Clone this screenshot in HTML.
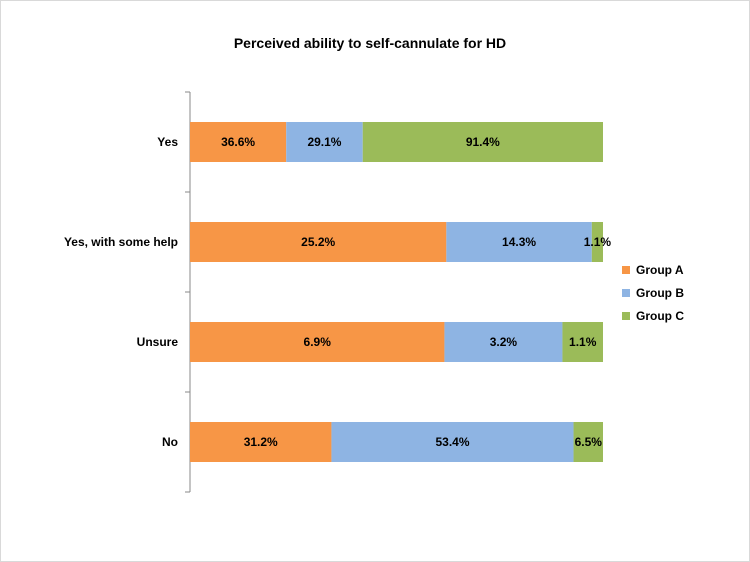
<!DOCTYPE html>
<html><head><meta charset="utf-8"><style>
body{margin:0;background:#fff;}
svg{display:block;font-family:"Liberation Sans",Arial,sans-serif;}
</style></head><body>
<svg id="chart" width="750" height="562">
<rect x="0.5" y="0.5" width="749" height="561" fill="#fff" stroke="#d9d9d9"/>
<text x="370" y="48" text-anchor="middle" font-size="14" font-weight="bold" fill="#000">Perceived ability to self-cannulate for HD</text>
<g id="plot"></g>
</svg>
<script>
const categories = ["Yes","Yes, with some help","Unsure","No"];
const seriesNames = ["Group A","Group B","Group C"];
const groupA = [36.6,25.2,6.9,31.2];
const groupB = [29.1,14.3,3.2,53.4];
const groupC = [91.4,1.1,1.1,6.5];
const colors = ["#F79646","#8EB4E3","#9BBB59"];
const NS="http://www.w3.org/2000/svg";
const g=document.getElementById('plot');
const x0=190,x1=603,yTop=92,band=100,barH=40;
function xScale(f){return x0+f*(x1-x0);}
function yBand(i){return yTop+i*band;}
function mk(t,a){const e=document.createElementNS(NS,t);for(const k in a)e.setAttribute(k,a[k]);g.appendChild(e);return e;}
const ax=mk('line',{x1:x0,y1:yTop,x2:x0,y2:yTop+band*categories.length,stroke:'#888'});


for(let i=0;i<=categories.length;i++){
 const t=mk('line',{x1:x0-5,y1:yBand(i),x2:x0,y2:yBand(i),stroke:'#888'});
 
 
}
const series=[groupA,groupB,groupC];
categories.forEach((c,i)=>{
 const yc=yBand(i)+band/2;
 const lb=mk('text',{x:178,y:yc+4,'text-anchor':'end','font-size':12,'font-weight':'bold'});
 lb.textContent=c;
 
 
 const tot=groupA[i]+groupB[i]+groupC[i];
 let cum=0;
 series.forEach((s,j)=>{
  const a=xScale(cum/tot),b=xScale((cum+s[i])/tot);cum+=s[i];
  const r=mk('rect',{x:a,y:yc-barH/2,width:b-a,height:barH,fill:colors[j]});
  
  
  const t=mk('text',{x:(a+b)/2,y:yc+4,'text-anchor':'middle','font-size':12,'font-weight':'bold'});
  t.textContent=s[i].toFixed(1)+'%';
  
  
 });
});
seriesNames.forEach((n,j)=>{
 const y=270+j*23;
 const r=mk('rect',{x:622,y:y-4,width:8,height:8,fill:colors[j]});
 
 
 const t=mk('text',{x:636,y:y+4,'font-size':12,'font-weight':'bold'});
 t.textContent=n;
 
 
});
</script>
</body></html>
